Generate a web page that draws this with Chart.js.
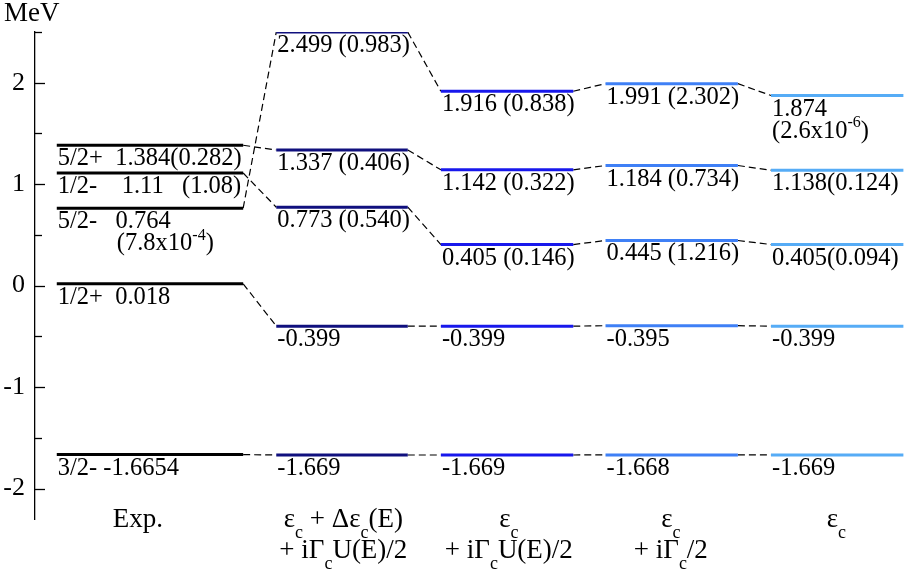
<!DOCTYPE html>
<html><head><meta charset="utf-8">
<script src="https://cdn.jsdelivr.net/npm/chart.js@4"></script>
<style>html,body{margin:0;padding:0;background:#fff}</style>
</head><body>
<canvas id="c" width="906" height="570"></canvas>
<script>
// ---------------- data ----------------
const categoryLine1 = ['Exp.', 'ε_{c} + Δε_{c}(E)', 'ε_{c}', 'ε_{c}', 'ε_{c}'];
const categoryLine2 = ['', '+ iΓ_{c}U(E)/2', '+ iΓ_{c}U(E)/2', '+ iΓ_{c}/2', ''];

const expLevels = [-1.6654, 0.018, 0.764, 1.11, 1.384];
const expLabels = ['3/2- -1.6654', '1/2+  0.018', '5/2-   0.764', '1/2-    1.11   (1.08)', '5/2+  1.384(0.282)'];
const expLabels2 = ['', '', '(7.8x10^{-4})', '', ''];

const levelsA = [-1.669, -0.399, 2.499, 0.773, 1.337];
const widthsA = ['', '', '0.983', '0.540', '0.406'];
const levelsB = [-1.669, -0.399, 1.916, 0.405, 1.142];
const widthsB = ['', '', '0.838', '0.146', '0.322'];
const levelsC = [-1.668, -0.395, 1.991, 0.445, 1.184];
const widthsC = ['', '', '2.302', '1.216', '0.734'];
const levelsD = [-1.669, -0.399, 1.874, 0.405, 1.138];
const widthsD = ['', '', '2.6x10^{-6}', '0.094', '0.124'];

const yTickValues = [-2, -1.5, -1, -0.5, 0, 0.5, 1, 1.5, 2, 2.5];

// ---------------- layout / style ----------------
const colStart = [0.25, 2.77, 4.66, 6.55, 8.45];
const colEnd   = [2.39, 4.28, 6.18, 8.07, 9.97];
const catCenter = [1.18, 3.54, 5.44, 7.30, 9.20];
const colColors = ['#000000', '#10107e', '#1818ec', '#3f80f6', '#56acf6'];
const FONT = '"Liberation Serif", "Times New Roman", serif';
const LBL = 24.5;

const allLevels = [expLevels, levelsA, levelsB, levelsC, levelsD];
const allWidths = [null, widthsA, widthsB, widthsC, widthsD];

const datasets = [];
allLevels.forEach((lv, c) => {
  lv.forEach(v => {
    datasets.push({
      data: [{x: colStart[c], y: v}, {x: colEnd[c], y: v}],
      borderColor: colColors[c], borderWidth: 3, borderCapStyle: 'butt',
      pointRadius: 0, showLine: true, order: 1
    });
  });
});
for (let c = 0; c < allLevels.length - 1; c++) {
  allLevels[c].forEach((v, i) => {
    datasets.push({
      data: [{x: colEnd[c], y: v}, {x: colStart[c + 1], y: allLevels[c + 1][i]}],
      borderColor: '#000', borderWidth: 1.2, borderDash: [7, 4],
      pointRadius: 0, showLine: true, order: 2
    });
  });
}

function parseRich(str) {
  const parts = [];
  const re = /(_\{[^}]*\}|\^\{[^}]*\})/g;
  let last = 0, m;
  while ((m = re.exec(str))) {
    if (m.index > last) parts.push({t: str.slice(last, m.index), k: 'n'});
    parts.push({t: m[0].slice(2, -1), k: m[0][0] === '_' ? 'sub' : 'sup'});
    last = re.lastIndex;
  }
  if (last < str.length) parts.push({t: str.slice(last), k: 'n'});
  return parts;
}
function fontFor(k, size) {
  return (k === 'n' ? size : Math.round(size * 0.66)) + 'px ' + FONT;
}
function drawRich(ctx, str, x, y, align, size, sy) {
  const parts = parseRich(str);
  let total = 0;
  parts.forEach(p => { ctx.font = fontFor(p.k, size); p.w = ctx.measureText(p.t).width; total += p.w; });
  let cx = align === 'center' ? x - total / 2 : x;
  parts.forEach(p => {
    ctx.font = fontFor(p.k, size);
    const dy = p.k === 'sub' ? size * 0.4 : p.k === 'sup' ? -size * 0.42 : 0;
    ctx.save();
    ctx.translate(cx, y + dy);
    ctx.scale(1, sy);
    ctx.textAlign = 'left';
    ctx.textBaseline = 'alphabetic';
    ctx.fillStyle = '#000';
    ctx.fillText(p.t, 0, 0);
    ctx.restore();
    cx += p.w;
  });
}

const annot = {
  id: 'annot',
  afterDraw(chart) {
    const ctx = chart.ctx, xs = chart.scales.x, ys = chart.scales.y;
    const axX = chart.chartArea.left;
    ctx.save();
    // inward ticks
    ctx.strokeStyle = '#000'; ctx.lineWidth = 1.3;
    yTickValues.forEach(v => {
      const py = Math.round(ys.getPixelForValue(v)) + 0.5;
      const len = Number.isInteger(v) ? 10 : 7;
      ctx.beginPath(); ctx.moveTo(axX, py); ctx.lineTo(axX + len, py); ctx.stroke();
    });
    // unit
    drawRich(ctx, 'MeV', 4, 21, 'left', 27, 1.0);
    // experimental labels
    expLevels.forEach((v, i) => {
      const px = xs.getPixelForValue(colStart[0]) + 1;
      const py = ys.getPixelForValue(v);
      drawRich(ctx, expLabels[i], px, py + 20, 'left', LBL, 1.06);
      if (expLabels2[i]) drawRich(ctx, expLabels2[i], px + 59, py + 42, 'left', LBL, 1.06);
    });
    // calculated labels
    for (let c = 1; c < allLevels.length; c++) {
      allLevels[c].forEach((v, i) => {
        const px = xs.getPixelForValue(colStart[c]) + 1;
        const py = ys.getPixelForValue(v);
        const w = allWidths[c][i];
        const val = v.toFixed(3);
        const sep = c === 4 ? '' : ' ';
        if (!w) {
          drawRich(ctx, val, px, py + 20, 'left', LBL, 1.06);
        } else if (w.indexOf('^') >= 0) {
          drawRich(ctx, val, px, py + 20, 'left', LBL, 1.06);
          drawRich(ctx, '(' + w + ')', px, py + 42, 'left', LBL, 1.06);
        } else {
          drawRich(ctx, val + sep + '(' + w + ')', px, py + 20, 'left', LBL, 1.06);
        }
      });
    }
    // category labels
    for (let c = 0; c < allLevels.length; c++) {
      const cx = xs.getPixelForValue(catCenter[c]);
      drawRich(ctx, categoryLine1[c], cx, 527, 'center', 27, 1.0);
      if (categoryLine2[c]) drawRich(ctx, categoryLine2[c], cx, 558, 'center', 27, 1.0);
    }
    ctx.restore();
  }
};

new Chart(document.getElementById('c').getContext('2d'), {
  type: 'scatter',
  data: {datasets},
  options: {
    responsive: false, animation: false, devicePixelRatio: 1,
    layout: {padding: {top: 32, bottom: 51, left: 0, right: 0}},
    plugins: {legend: {display: false}, tooltip: {enabled: false}},
    scales: {
      x: {type: 'linear', min: 0, max: 10, display: false},
      y: {
        type: 'linear', min: -2.3, max: 2.5,
        afterFit(s) { s.width = 35; },
        grid: {display: false, drawTicks: false},
        border: {display: true, color: '#000', width: 1.3},
        ticks: {
          stepSize: 0.5, padding: 10, color: '#000',
          font: {family: FONT, size: 26},
          callback: v => (Number.isInteger(v) ? String(v) : '')
        }
      }
    }
  },
  plugins: [annot]
});
</script>
</body></html>
